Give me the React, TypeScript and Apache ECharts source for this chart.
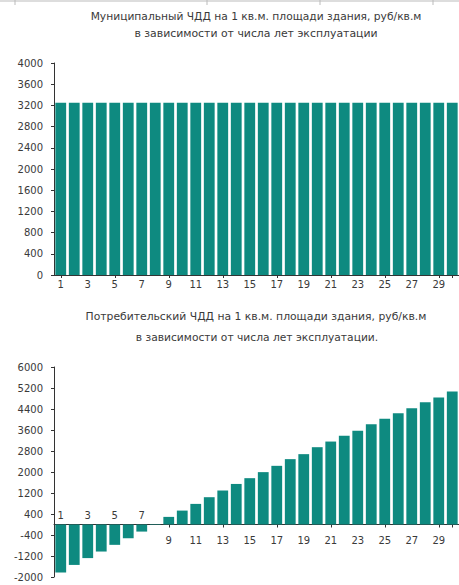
import React, { useEffect, useRef } from "react";
import * as echarts from "echarts";

const categories = ["1","2","3","4","5","6","7","8","9","10","11","12","13","14","15","16","17","18","19","20","21","22","23","24","25","26","27","28","29","30"];
const municipalValues = [3250,3250,3250,3250,3250,3250,3250,3250,3250,3250,3250,3250,3250,3250,3250,3250,3250,3250,3250,3250,3250,3250,3250,3250,3250,3250,3250,3250,3250,3250];
const consumerValues = [-1830,-1540,-1280,-1030,-775,-520,-270,-20,290,530,785,1040,1295,1545,1765,1995,2235,2490,2680,2945,3160,3380,3570,3820,4025,4240,4430,4660,4840,5065];
const title1 = ["Муниципальный ЧДД на 1 кв.м. площади здания, руб/кв.м", "в зависимости от числа лет эксплуатации"];
const title2 = ["Потребительский ЧДД на 1 кв.м. площади здания, руб/кв.м", "в зависимости от числа лет эксплуатации."];
const upperLabelsBottom = ["1", "3", "5", "7"];

const BAR = "#0e8a80";
const TXT = "#3a3a3a";
const FONT = "DejaVu Sans, Arial, sans-serif";

export default function App() {
  const ref = useRef<HTMLDivElement>(null);
  useEffect(() => {
    if (!ref.current) return;
    const chart = echarts.init(ref.current, null, { renderer: "svg" });
    const axisLabelBase = { color: TXT, fontSize: 10, fontFamily: FONT };
    const yAxisCommon = {
      type: "value",
      axisLine: { show: true, lineStyle: { color: "#333", width: 1 } },
      axisTick: { show: true, length: 3, lineStyle: { color: "#333" } },
      splitLine: { show: false },
      axisLabel: { ...axisLabelBase, margin: 11, formatter: (v: number) => String(v) },
    };
    const oddLabel = (lo: number, hi: number) => (v: string) => {
      const n = Number(v);
      return n % 2 === 1 && n >= lo && n <= hi ? v : "";
    };
    const zeroOffset = -(210 * 2000) / 8000;
    const titleStyle = (text: string) => ({ text, textAlign: "center", textVerticalAlign: "middle", fill: TXT, fontSize: 10, fontFamily: FONT });
    chart.setOption({
      animation: false,
      backgroundColor: "#ffffff",
      textStyle: { fontFamily: FONT },
      grid: [
        { left: 54, top: 63, width: 405, height: 212, containLabel: false, outerBoundsMode: "none" },
        { left: 54, top: 367, width: 405, height: 210, containLabel: false, outerBoundsMode: "none" },
      ],
      xAxis: [
        {
          type: "category", gridIndex: 0, data: categories,
          axisLine: { lineStyle: { color: "#333" } },
          axisTick: { show: true, alignWithLabel: true, interval: 3, length: 3, lineStyle: { color: "#333" } },
          axisLabel: { ...axisLabelBase, interval: 0, margin: 4, formatter: oddLabel(1, 29) },
        },
        {
          type: "category", gridIndex: 1, data: categories, position: "bottom", offset: zeroOffset,
          axisLine: { onZero: false, lineStyle: { color: "#333" } },
          axisTick: { show: true, alignWithLabel: true, interval: 3, length: 3, lineStyle: { color: "#333" } },
          axisLabel: { ...axisLabelBase, interval: 0, margin: 11, formatter: oddLabel(9, 29) },
        },
        {
          type: "category", gridIndex: 1, data: categories, position: "bottom", offset: zeroOffset,
          axisLine: { show: false, onZero: false },
          axisTick: { show: false },
          axisLabel: {
            ...axisLabelBase, interval: 0, inside: true, margin: 4,
            formatter: (v: string) => (upperLabelsBottom.indexOf(v) >= 0 ? v : ""),
          },
        },
      ],
      yAxis: [
        { ...yAxisCommon, gridIndex: 0, min: 0, max: 4000, interval: 400 },
        { ...yAxisCommon, gridIndex: 1, min: -2000, max: 6000, interval: 800 },
      ],
      series: [
        {
          type: "bar", xAxisIndex: 0, yAxisIndex: 0, data: municipalValues,
          itemStyle: { color: BAR }, barCategoryGap: "20%",
        },
        {
          type: "bar", xAxisIndex: 1, yAxisIndex: 1, data: consumerValues,
          itemStyle: { color: BAR }, barCategoryGap: "20%",
        },
      ],
      graphic: [
        { type: "line", shape: { x1: 0, y1: 1, x2: 459, y2: 1 }, style: { stroke: "#bbb", lineWidth: 1 } },
        { type: "line", shape: { x1: 15, y1: 0, x2: 15, y2: 5 }, style: { stroke: "#bbb", lineWidth: 1 } },
        { type: "line", shape: { x1: 207, y1: 0, x2: 207, y2: 5 }, style: { stroke: "#bbb", lineWidth: 1 } },
        { type: "line", shape: { x1: 320, y1: 0, x2: 320, y2: 5 }, style: { stroke: "#bbb", lineWidth: 1 } },
        { type: "line", shape: { x1: 433, y1: 0, x2: 433, y2: 5 }, style: { stroke: "#bbb", lineWidth: 1 } },
        { type: "text", x: 256, y: 16, scaleX: 1.07, style: titleStyle(title1[0]) },
        { type: "text", x: 256, y: 33, scaleX: 1.09, style: titleStyle(title1[1]) },
        { type: "text", x: 256, y: 316, scaleX: 1.08, style: titleStyle(title2[0]) },
        { type: "text", x: 257, y: 337, scaleX: 1.07, style: titleStyle(title2[1]) },
      ],
    });
    return () => chart.dispose();
  }, []);
  return <div ref={ref} style={{ position: "fixed", left: 0, top: 0, width: 459, height: 585 }} />;
}
